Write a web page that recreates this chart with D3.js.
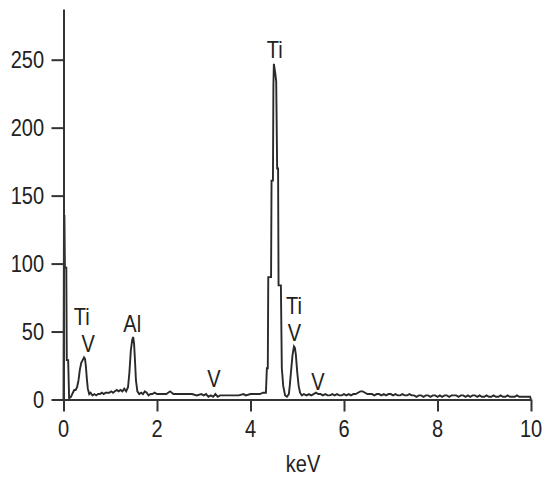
<!DOCTYPE html>
<html>
<head>
<meta charset="utf-8">
<script src="https://cdn.jsdelivr.net/npm/d3@7"></script>
<style>
  body { margin: 0; background: #fff; }
  svg text { font-family: Arial, "Liberation Sans", sans-serif; fill: #222; }
</style>
</head>
<body>
<div id="chart"></div>
<script>
const svgWidth = 550;
const svgHeight = 478;

// EDS spectrum: [keV, counts]
const spectrum = [
  [0.00, 0], [0.01, 135], [0.02, 135], [0.03, 97], [0.06, 97], [0.07, 29], [0.10, 29],
  [0.12, 1], [0.16, 2], [0.20, 5], [0.23, 7], [0.26, 7], [0.29, 9], [0.32, 14],
  [0.35, 22], [0.38, 27], [0.41, 29], [0.44, 31], [0.46, 30], [0.48, 24], [0.50, 15],
  [0.52, 8], [0.55, 4], [0.58, 5], [0.62, 3], [0.66, 4], [0.70, 3], [0.74, 4],
  [0.78, 4], [0.82, 5], [0.86, 4], [0.90, 5], [0.94, 5], [0.98, 5], [1.02, 6],
  [1.06, 5], [1.10, 6], [1.14, 7], [1.18, 6], [1.22, 7], [1.26, 6], [1.30, 8],
  [1.34, 6], [1.38, 9], [1.41, 20], [1.44, 36], [1.47, 44], [1.49, 46], [1.51, 41],
  [1.53, 28], [1.55, 14], [1.58, 6], [1.62, 4], [1.66, 5], [1.70, 4], [1.74, 6],
  [1.78, 5], [1.82, 3], [1.86, 4], [1.90, 4], [1.95, 5], [2.00, 4], [2.05, 4],
  [2.10, 4], [2.15, 4], [2.20, 4], [2.28, 6], [2.35, 4], [2.45, 4], [2.55, 4],
  [2.65, 4], [2.75, 4], [2.85, 3], [2.95, 4], [3.00, 3], [3.05, 4], [3.10, 2],
  [3.15, 3], [3.20, 2], [3.25, 4], [3.30, 2], [3.35, 3], [3.45, 3], [3.55, 3],
  [3.65, 3], [3.75, 3], [3.85, 4], [3.90, 3], [4.00, 4], [4.10, 4], [4.20, 4],
  [4.27, 5], [4.33, 5], [4.35, 23], [4.37, 23], [4.38, 90], [4.44, 90], [4.45, 161],
  [4.48, 161], [4.49, 231], [4.50, 247], [4.53, 240], [4.55, 234], [4.57, 170],
  [4.59, 170], [4.60, 84], [4.65, 84], [4.67, 23], [4.70, 10], [4.74, 3], [4.78, 2],
  [4.82, 4], [4.84, 10], [4.87, 22], [4.90, 33], [4.93, 39], [4.95, 38], [4.97, 33],
  [5.00, 20], [5.03, 10], [5.06, 5], [5.10, 3], [5.14, 4], [5.20, 3], [5.25, 4],
  [5.30, 3], [5.35, 4], [5.40, 5], [5.45, 4], [5.50, 4], [5.55, 3], [5.60, 4],
  [5.65, 3], [5.70, 3], [5.75, 4], [5.80, 3], [5.85, 4], [5.90, 3], [5.95, 3],
  [6.00, 4], [6.05, 3], [6.10, 4], [6.15, 3], [6.20, 4], [6.25, 4], [6.30, 5],
  [6.35, 6], [6.40, 6], [6.45, 5], [6.50, 4], [6.55, 4], [6.60, 4], [6.65, 3],
  [6.70, 4], [6.75, 4], [6.80, 3], [6.85, 4], [6.90, 3], [6.95, 4], [7.00, 4],
  [7.05, 3], [7.10, 4], [7.15, 3], [7.20, 3], [7.25, 4], [7.30, 3], [7.35, 3],
  [7.40, 4], [7.45, 3], [7.50, 3], [7.55, 2], [7.60, 3], [7.65, 3], [7.70, 2],
  [7.75, 3], [7.80, 3], [7.85, 2], [7.90, 3], [7.95, 3], [8.00, 2], [8.05, 3],
  [8.10, 2], [8.15, 3], [8.20, 3], [8.25, 2], [8.30, 3], [8.35, 3], [8.40, 3],
  [8.45, 2], [8.50, 3], [8.55, 3], [8.60, 2], [8.65, 3], [8.70, 2], [8.75, 3],
  [8.80, 3], [8.85, 2], [8.90, 3], [8.95, 2], [9.00, 2], [9.05, 3], [9.10, 2],
  [9.15, 2], [9.20, 3], [9.25, 2], [9.30, 2], [9.35, 3], [9.40, 2], [9.45, 2],
  [9.50, 3], [9.55, 2], [9.60, 2], [9.65, 2], [9.70, 3], [9.75, 2], [9.80, 2],
  [9.85, 2], [9.90, 2], [9.95, 2], [9.98, 2], [10.00, 0]
];

// element labels: text, keV position, counts position of baseline
const peakLabels = [
  { text: "Ti", e: 0.39, c: 55 },
  { text: "V",  e: 0.53, c: 35 },
  { text: "Al", e: 1.47, c: 50 },
  { text: "V",  e: 3.22, c: 9 },
  { text: "Ti", e: 4.93, c: 63 },
  { text: "Ti", e: 4.52, c: 251 },
  { text: "V",  e: 4.94, c: 43 },
  { text: "V",  e: 5.44, c: 7 }
];

const xTicks = [0, 2, 4, 6, 8, 10];
const yTicks = [0, 50, 100, 150, 200, 250];
const xTitle = "keV";

const textScaleY = 1.19;

const svg = d3.select("#chart")
  .append("svg")
  .attr("width", svgWidth)
  .attr("height", svgHeight);

const xScale = d3.scaleLinear().domain([0, 10]).range([63.5, 531]);
const yScale = d3.scaleLinear().domain([0, 287.3]).range([399.5, 9]);

// spectrum trace
const line = d3.line()
  .x(d => xScale(d[0]))
  .y(d => yScale(d[1]));

svg.append("path")
  .datum(spectrum)
  .attr("d", line)
  .attr("fill", "none")
  .attr("stroke", "#2a2a2a")
  .attr("stroke-width", 1.9)
  .attr("stroke-linejoin", "miter");

// axes
const xAxis = svg.append("g")
  .attr("transform", `translate(0, ${yScale(0)})`)
  .call(d3.axisBottom(xScale).tickValues(xTicks).tickSize(12).tickSizeOuter(0).tickFormat(""));

const yAxis = svg.append("g")
  .attr("transform", `translate(${xScale(0)}, 0)`)
  .call(d3.axisLeft(yScale).tickValues(yTicks).tickSize(12).tickSizeOuter(0).tickFormat(""));

svg.selectAll(".domain, .tick line")
  .attr("stroke", "#333")
  .attr("stroke-width", 2);

// tick labels (the picture is stretched vertically, so text is too)
svg.selectAll(".xlab")
  .data(xTicks)
  .enter()
  .append("text")
  .attr("transform", d => `translate(${xScale(d)}, 437) scale(1, ${textScaleY})`)
  .attr("text-anchor", "middle")
  .attr("font-size", 20)
  .text(d => d);

svg.selectAll(".ylab")
  .data(yTicks)
  .enter()
  .append("text")
  .attr("transform", d => `translate(44, ${yScale(d) + 8.5}) scale(1, ${textScaleY})`)
  .attr("text-anchor", "end")
  .attr("font-size", 20)
  .text(d => d);

svg.append("text")
  .attr("transform", `translate(303, 472) scale(1, ${textScaleY})`)
  .attr("text-anchor", "middle")
  .attr("font-size", 20)
  .text(xTitle);

svg.selectAll(".peak")
  .data(peakLabels)
  .enter()
  .append("text")
  .attr("transform", d => `translate(${xScale(d.e)}, ${yScale(d.c)}) scale(1, ${textScaleY})`)
  .attr("text-anchor", "middle")
  .attr("font-size", 20)
  .text(d => d.text);
</script>
</body>
</html>
